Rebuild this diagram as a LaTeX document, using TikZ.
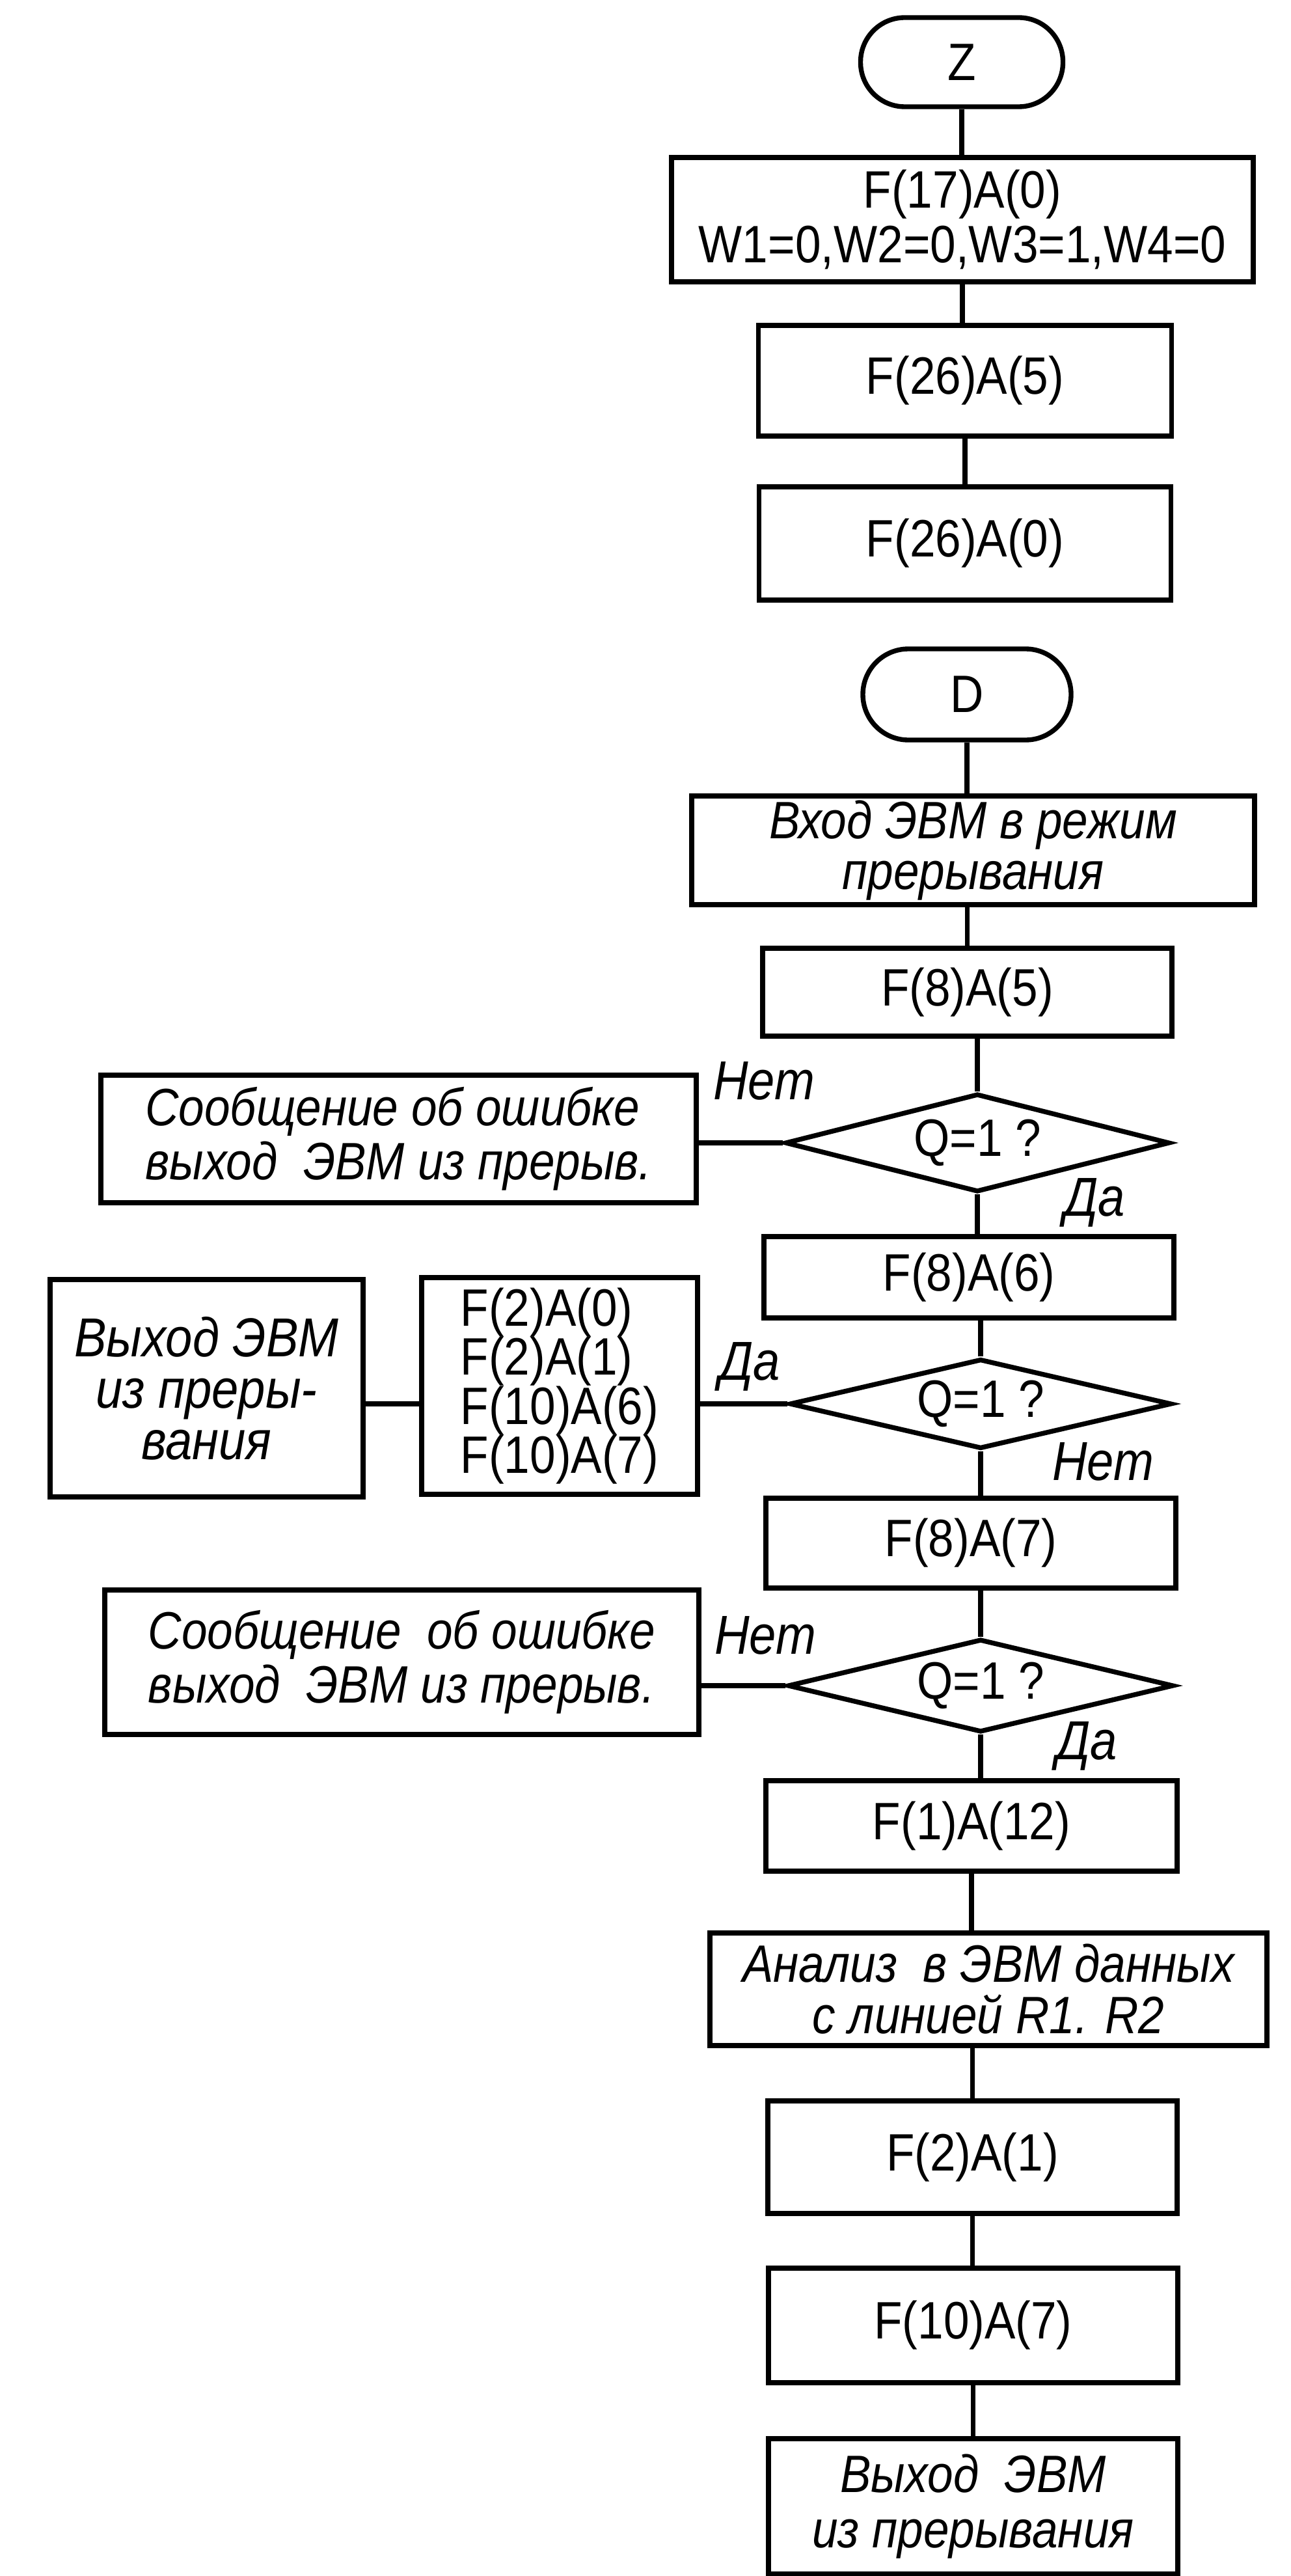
\documentclass[tikz,border=0pt]{standalone}
\usepackage{fontspec}
\setmainfont[FakeStretch=0.88]{Liberation Sans}
\usetikzlibrary{shapes.geometric}
\tikzset{
  ln/.style={line width=2.1pt},
  txt/.style={font=\fontsize{23}{23}\selectfont},
  itxt/.style={font=\fontsize{23}{23}\selectfont\itshape},
  box/.style={ln, draw, rectangle, inner sep=0pt, align=center, txt},
  term/.style={box},
  dec/.style={ln, draw, diamond, shape aspect=3.9, inner sep=0pt, txt},
  lbl/.style={inner sep=0pt, font=\fontsize{24}{24}\selectfont\itshape},
}
\begin{document}
\begin{tikzpicture}
\useasboundingbox (0,0) rectangle (19.83,-39.58);
% top block
\node[term, rounded corners=0.68cm, minimum width=3.11cm, minimum height=1.37cm] (z) at (14.78,-0.955) {Z};
\node[box, font=\fontsize{23}{24}\selectfont, minimum width=8.94cm, minimum height=1.91cm] (b1) at (14.79,-3.375) {F(17)A(0)\\W1=0,W2=0,W3=1,W4=0};
\node[box, minimum width=6.35cm, minimum height=1.70cm] (b2) at (14.83,-5.85) {F(26)A(5)};
\node[box, minimum width=6.33cm, minimum height=1.74cm] (b3) at (14.83,-8.35) {F(26)A(0)};
% D block
\node[term, rounded corners=0.70cm, minimum width=3.20cm, minimum height=1.40cm] (d) at (14.86,-10.67) {D};
\node[box, font=\fontsize{23}{22}\selectfont\itshape, minimum width=8.65cm, minimum height=1.67cm] (vx) at (14.955,-13.065) {Вход ЭВМ в режим\\прерывания};
\node[box, minimum width=6.29cm, minimum height=1.35cm] (f85) at (14.865,-15.245) {F(8)A(5)};
\node[dec, minimum width=5.91cm, minimum height=1.51cm] (q1) at (15.02,-17.56) {Q=1 ?};
\node[box, font=\fontsize{23}{23.5}\selectfont\itshape, align=left, minimum width=9.15cm, minimum height=1.96cm] (e1) at (6.125,-17.50) {Сообщение об ошибке\\выход\ \ ЭВМ из прерыв.};
\node[box, minimum width=6.30cm, minimum height=1.25cm] (f86) at (14.89,-19.625) {F(8)A(6)};
\node[dec, minimum width=5.87cm, minimum height=1.38cm] (q2) at (15.07,-21.57) {Q=1 ?};
\node[box, font=\fontsize{23}{21.5}\selectfont, align=left, minimum width=4.24cm, minimum height=3.33cm] (lst) at (8.60,-21.295) {F(2)A(0)\\F(2)A(1)\\F(10)A(6)\\F(10)A(7)};
\node[box, font=\fontsize{24}{22.5}\selectfont\itshape, minimum width=4.81cm, minimum height=3.34cm] (x1) at (3.175,-21.33) {Выход ЭВМ\\из преры-\\вания};
\node[box, minimum width=6.30cm, minimum height=1.38cm] (f87) at (14.92,-23.71) {F(8)A(7)};
\node[dec, minimum width=5.93cm, minimum height=1.43cm] (q3) at (15.07,-25.90) {Q=1 ?};
\node[box, font=\fontsize{23}{23.5}\selectfont\itshape, align=left, minimum width=9.13cm, minimum height=2.22cm] (e2) at (6.175,-25.54) {Сообщение\ \ об ошибке\\выход\ \ ЭВМ из прерыв.};
\node[box, minimum width=6.32cm, minimum height=1.39cm] (f112) at (14.93,-28.055) {F(1)A(12)};
\node[box, font=\fontsize{23}{22.5}\selectfont\itshape, minimum width=8.56cm, minimum height=1.73cm] (an) at (15.19,-30.565) {Анализ\ \ в ЭВМ данных\\с линией R1. R2};
\node[box, minimum width=6.29cm, minimum height=1.73cm] (f21) at (14.945,-33.145) {F(2)A(1)};
\node[box, minimum width=6.29cm, minimum height=1.76cm] (f107) at (14.955,-35.73) {F(10)A(7)};
\node[box, font=\fontsize{23}{24}\selectfont\itshape, minimum width=6.29cm, minimum height=2.08cm] (fin) at (14.955,-38.51) {Выход\ \ ЭВМ\\из прерывания};
% labels
\node[lbl] (l1) at (11.74,-16.61) {Нет};
\node[lbl] (l2) at (16.82,-18.48) {Да};
\node[lbl] (l3) at (11.52,-21.00) {Да};
\node[lbl] (l4) at (16.95,-22.46) {Нет};
\node[lbl] (l5) at (11.76,-25.13) {Нет};
\node[lbl] (l6) at (16.70,-26.83) {Да};
% connectors
\draw[ln] (z.south) -- (z.south |- b1.north);
\draw[ln] (b1.south) -- (b1.south |- b2.north);
\draw[ln] (b2.south) -- (b2.south |- b3.north);
\draw[ln] (d.south) -- (d.south |- vx.north);
\draw[ln] (vx.south -| f85.north) -- (f85.north);
\draw[ln] (q1.north) -- (q1.north |- f85.south);
\draw[ln] (q1.south) -- (q1.south |- f86.north);
\draw[ln] (q2.north) -- (q2.north |- f86.south);
\draw[ln] (q2.south) -- (q2.south |- f87.north);
\draw[ln] (q3.north) -- (q3.north |- f87.south);
\draw[ln] (q3.south) -- (q3.south |- f112.north);
\draw[ln] (f112.south) -- (f112.south |- an.north);
\draw[ln] (an.south -| f21.north) -- (f21.north);
\draw[ln] (f21.south) -- (f21.south |- f107.north);
\draw[ln] (f107.south) -- (f107.south |- fin.north);
\draw[ln] (q1.west) -- (q1.west -| e1.east);
\draw[ln] (q2.west) -- (q2.west -| lst.east);
\draw[ln] (lst.west |- q2.west) -- (x1.east |- q2.west);
\draw[ln] (q3.west) -- (q3.west -| e2.east);
\end{tikzpicture}
\end{document}
